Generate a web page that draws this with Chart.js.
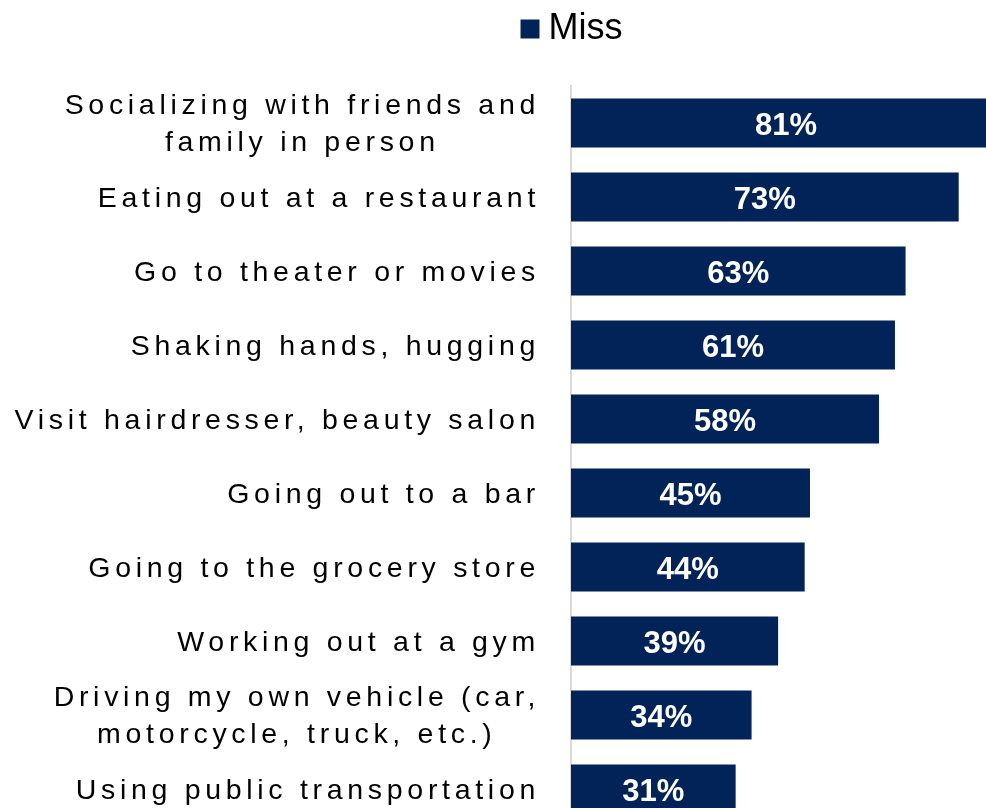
<!DOCTYPE html>
<html>
<head>
<meta charset="utf-8">
<script src="https://cdn.jsdelivr.net/npm/chart.js@4"></script>
<style>
  html, body { margin: 0; padding: 0; overflow: hidden; background: #fff; }
  canvas { display: block; }
</style>
</head>
<body>
<canvas id="chart" width="1152" height="826"></canvas>
<script>
var activities = [
  ['Socializing with friends and', 'family in person'],
  'Eating out at a restaurant',
  'Go to theater or movies',
  'Shaking hands, hugging',
  'Visit hairdresser, beauty salon',
  'Going out to a bar',
  'Going to the grocery store',
  'Working out at a gym',
  ['Driving my own vehicle (car,', 'motorcycle, truck, etc.)'],
  'Using public transportation'
];
var missPct = [81, 73, 63, 61, 58, 45, 44, 39, 34, 31];
var seriesName = 'Miss';

var FONT = '"Liberation Sans", Arial, Helvetica, sans-serif';
var NAVY = '#022357';
var LABEL_SPACING = '4.7px';

// push the plot down below the legend
var legendGap = {
  id: 'legendGap',
  beforeInit: function(chart) {
    var fit = chart.legend.fit;
    chart.legend.fit = function() {
      fit.bind(chart.legend)();
      this.height += 29;
    };
  }
};

// percent labels inside the bars + letter-spaced category labels
var barLabels = {
  id: 'barLabels',
  beforeDraw: function(chart) {
    // wrapped labels: lines centred on each other, block still right-aligned
    var ctx = chart.ctx;
    var items = chart.scales.y.getLabelItems(chart.chartArea);
    ctx.save();
    ctx.letterSpacing = LABEL_SPACING;
    items.forEach(function(item) {
      if (item.adjusted) return;
      item.options.translation[1] += 2;
      if (Array.isArray(item.label)) {
        ctx.font = item.font.string;
        var w = Math.max.apply(null, item.label.map(function(line) {
          return ctx.measureText(line).width;
        }));
        item.options.textAlign = 'center';
        item.options.translation[0] -= w / 2;
      }
      item.adjusted = true;
    });
    ctx.restore();
  },
  afterDatasetsDraw: function(chart) {
    var ctx = chart.ctx;
    ctx.save();
    ctx.font = 'bold 31px ' + FONT;
    ctx.fillStyle = '#fff';
    ctx.textAlign = 'center';
    ctx.textBaseline = 'middle';
    chart.getDatasetMeta(0).data.forEach(function(bar, i) {
      ctx.fillText(missPct[i] + '%', (bar.x + bar.base) / 2, bar.y + 3);
    });
    ctx.restore();
    // y tick labels sit on z 1, so they are drawn after this
    ctx.letterSpacing = LABEL_SPACING;
  },
  afterDraw: function(chart) {
    chart.ctx.letterSpacing = '0px';
  }
};

new Chart('chart', {
  type: 'bar',
  data: {
    labels: activities,
    datasets: [{
      label: seriesName,
      data: missPct,
      backgroundColor: NAVY,
      barPercentage: 0.66,
      categoryPercentage: 1
    }]
  },
  options: {
    indexAxis: 'y',
    responsive: false,
    animation: false,
    events: [],
    layout: { padding: 0 },
    scales: {
      // the plot runs on past the right edge of the window
      x: { display: false, min: 0, max: 109.4 },
      y: {
        grid: { display: false, drawTicks: false },
        border: { display: true, color: '#d9d9d9', width: 2 },
        ticks: {
          z: 1,
          autoSkip: false,
          padding: 31,
          color: '#000',
          font: { family: FONT, size: 28.5, lineHeight: 1.3 }
        },
        afterFit: function(scale) {
          scale.width = 571;
          scale.paddingTop = 0;
          scale.paddingBottom = 0;
        }
      }
    },
    plugins: {
      legend: {
        position: 'top',
        labels: {
          usePointStyle: true,
          pointStyle: 'rect',
          boxWidth: 1,
          boxHeight: 19,
          padding: 11,
          color: '#000',
          font: { family: FONT, size: 36 }
        }
      },
      tooltip: { enabled: false }
    }
  },
  plugins: [legendGap, barLabels]
});
</script>
</body>
</html>
